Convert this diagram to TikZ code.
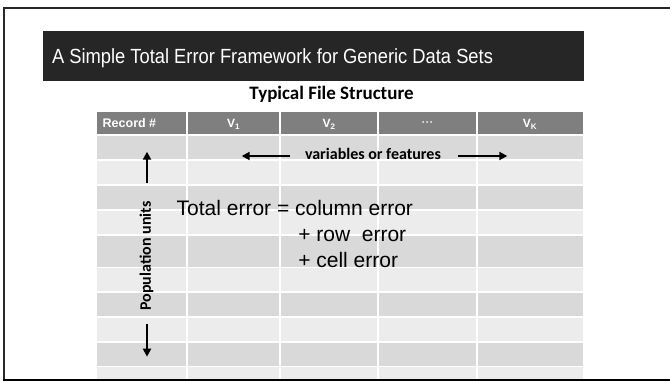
\documentclass[tikz,border=0pt]{standalone}
\usepackage{fontspec}
\setmainfont{Liberation Sans}
\newfontfamily\calfont{Carlito}
\usetikzlibrary{arrows.meta}
\definecolor{hdrgray}{RGB}{127,127,127}
\definecolor{rowdark}{RGB}{217,217,217}
\definecolor{rowlight}{RGB}{236,236,236}
\definecolor{titlebg}{RGB}{38,38,38}
\definecolor{framecol}{RGB}{40,40,40}
\begin{document}
\begin{tikzpicture}[x=1pt,y=-1pt,
  txt/.style={inner sep=0pt, outer sep=0pt},
  hdrtext/.style={txt, anchor=base, text=white, font=\fontsize{12}{14}\selectfont\bfseries},
  bigarrow/.style={line width=2.3pt, -{Triangle[width=8pt,length=8pt]}},
  gridline/.style={white, line width=1.3pt}]
\useasboundingbox (0,0) rectangle (670,382);

% title bar
\fill[titlebg] (43,31) rectangle (584,81);
\node[txt, anchor=base west, text=white, xscale=0.894,
      font=\fontsize{20.5}{24}\selectfont] (title) at (52,64)
  {A Simple Total Error Framework for Generic Data Sets};

% caption of the table
\node[txt, anchor=base, font=\calfont\fontsize{19}{22}\selectfont\bfseries]
  (caption) at (331.5,100) {Typical File Structure};

% table body: row bands
\begin{scope}
\clip (97,100) rectangle (583,379);
\foreach \ya/\yb/\c in {112/135/hdrgray, 135/160/rowdark, 160/185/rowlight,
    185/210/rowdark, 210/235/rowlight, 235/267.5/rowdark, 267.5/292/rowlight,
    292/317/rowdark, 317/342/rowlight, 342/366.5/rowdark, 366.5/382/rowlight}
  \fill[\c] (97,\ya) rectangle (583,\yb);
\foreach \y in {135,160,185,210,235,267.5,292,317,342,366.5}
  \draw[gridline] (97,\y) -- (583,\y);
\foreach \x in {187,280,378,477}
  \draw[gridline] (\x,112) -- (\x,382);
\end{scope}

% header labels
\node[txt, anchor=base west, text=white, font=\fontsize{12.5}{14}\selectfont\bfseries]
  (rec) at (102.7,128) {Record \#};
\node[hdrtext] (v1) at (233.5,128) {V\textsubscript{1}};
\node[hdrtext] (v2) at (329,128) {V\textsubscript{2}};
\node[hdrtext, text=white!75!hdrgray] (vdots) at (427.5,127)
  {\textperiodcentered\textperiodcentered\textperiodcentered};
\node[hdrtext] (vk) at (530,128) {V\textsubscript{K}};

% column direction
\node[txt, anchor=base west, font=\calfont\fontsize{16}{19}\selectfont\bfseries]
  (vars) at (305,160) {variables or features};
\coordinate (lhead) at (241.7,156);
\coordinate (ltail) at (290,156);
\coordinate (rtail) at (458,156);
\coordinate (rhead) at (507.3,156);
\draw[bigarrow] (ltail) -- (lhead);
\draw[bigarrow] (rtail) -- (rhead);

% row direction
\node[txt, rotate=90, font=\calfont\fontsize{16}{19}\selectfont\bfseries]
  (pop) at (146.5,256) {Population units};
\coordinate (uptail) at (147,183.3);
\coordinate (uphead) at (147,151.7);
\coordinate (dntail) at (147,324);
\coordinate (dnhead) at (147,356.7);
\draw[bigarrow] (uptail) -- (uphead);
\draw[bigarrow] (dntail) -- (dnhead);

% error decomposition
\node[txt, anchor=base west, font=\fontsize{21}{25}\selectfont]
  (tot) at (176.7,216) {Total error = column error};
\node[txt, anchor=base west, font=\fontsize{21}{25}\selectfont]
  (row) at (298.3,242) {+ row\ \ error};
\node[txt, anchor=base west, font=\fontsize{21}{25}\selectfont]
  (cell) at (298.3,268) {+ cell error};

% slide frame
\draw[framecol, line width=1.5pt] (670,8) -- (4,8) -- (4,380);
\draw[black, line width=2.5pt] (3.25,380) -- (670,380);
\end{tikzpicture}
\end{document}
